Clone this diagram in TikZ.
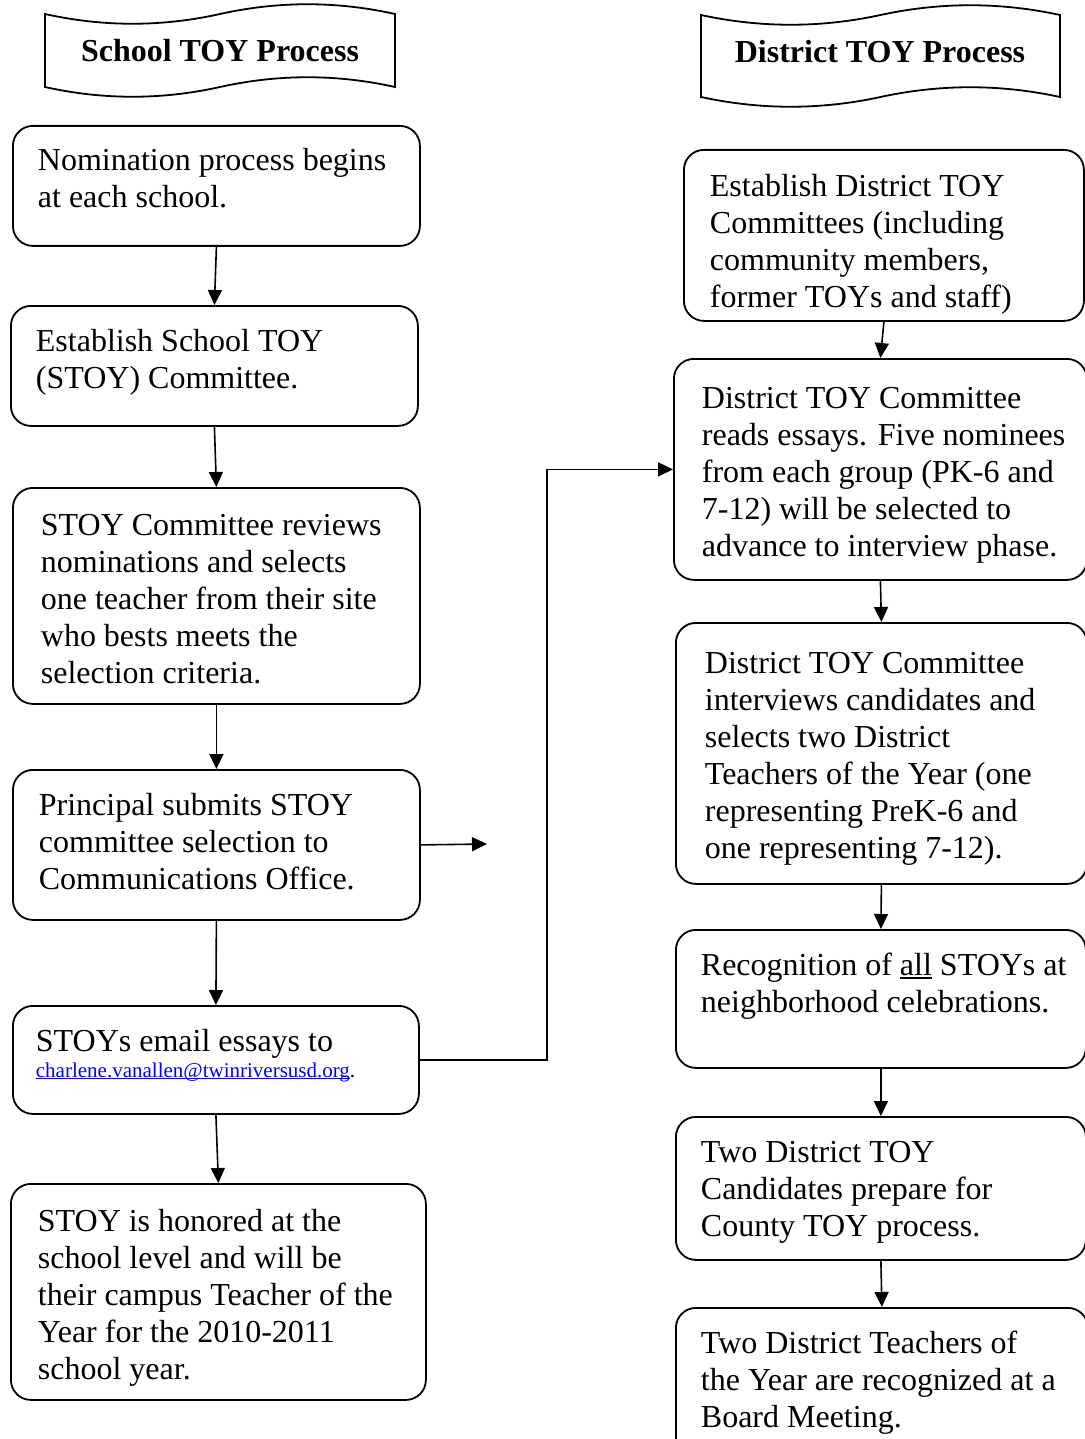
\documentclass[tikz,border=0pt]{standalone}
\usepackage{fontspec}
\setmainfont{Liberation Serif}
\usetikzlibrary{arrows.meta}

% text inside a step box: [top pad]{width}{height}{left inset}{text}
\newcommand{\stepbody}[5][9.6pt]{%
  \parbox[c][#3][t]{#2}{\leftskip=#4\rightskip=0pt plus 1fil\parfillskip=0pt plus 1fil%
    \vspace*{#1}\strut #5}}

% underline at a fixed depth
\newlength{\lowlinewd}
\newcommand{\lowline}[2][1.8pt]{\settowidth{\lowlinewd}{#2}\rlap{\rule[-#1]{\lowlinewd}{0.6pt}}#2}
\newcommand{\maillinktext}{\fontsize{10.5pt}{12pt}\selectfont}

% wavy banner behind a heading: {left}{right}{top}{height}
\newcommand{\tapebanner}[4]{%
  \draw[tape] (#1,#3)
    .. controls ({#1+(#2-#1)/6},#3+13) and ({#1+(#2-#1)/3},#3+13) .. ({(#1+#2)/2},#3)
    .. controls ({#1+2*(#2-#1)/3},#3-13) and ({#1+5*(#2-#1)/6},#3-13) .. (#2,#3)
    -- (#2,#3+#4)
    .. controls ({#1+5*(#2-#1)/6},#3+#4-13) and ({#1+2*(#2-#1)/3},#3+#4-13) .. ({(#1+#2)/2},#3+#4)
    .. controls ({#1+(#2-#1)/3},#3+#4+13) and ({#1+(#2-#1)/6},#3+#4+13) .. (#1,#3+#4)
    -- cycle;}

\tikzset{
  stepbox/.style={draw, line width=0.9pt, rounded corners=10pt, anchor=north west,
    inner sep=0pt, font=\fontsize{16pt}{18.5pt}\selectfont},
  headtext/.style={anchor=base, font=\fontsize{16pt}{19pt}\selectfont\bfseries},
  tape/.style={line width=0.9pt},
  flow/.style={line width=0.8pt, -{Triangle[length=7.5pt,width=7pt]}}
}

\begin{document}
\begin{tikzpicture}[x=0.5pt, y=-0.5pt]
	
	% ------------------------------------------------
	% Page size
	\useasboundingbox (0,0) rectangle (1085,1439);
	
	% ------------------------------------------------
	% Headings
	\node[headtext] (schoolhead) at (220,62) {School TOY Process};
	\tapebanner{45}{395}{14}{73}
	
	\node[headtext] (districthead) at (880,63) {District TOY Process};
	\tapebanner{701}{1060}{15}{82}
	
	% ----------------
	% School column
	\node[stepbox] (nominate) at (12,125)
		{\stepbody{203.5pt}{60pt}{12.5pt}{Nomination process begins\\at each school.}};
	\node[stepbox] (stoycomm) at (10,305)
		{\stepbody{203.5pt}{60pt}{12.5pt}{Establish School TOY\\(STOY) Committee.}};
	\node[stepbox] (review) at (12,487)
		{\stepbody[10.8pt]{203.5pt}{108pt}{14pt}{STOY Committee reviews\\nominations and selects\\one teacher from their site\\who bests meets the\\selection criteria.}};
	\node[stepbox] (submit) at (12,769)
		{\stepbody{203.5pt}{75pt}{13pt}{Principal submits STOY\\committee selection to\\Communications Office.}};
	\node[stepbox] (essays) at (12,1005)
		{\stepbody{203pt}{54pt}{11.5pt}{STOYs email essays to\\[-5.5pt]{\maillinktext\textcolor{blue}{\lowline[1.2pt]{charlene.vanallen@twinriversusd.org}}.}}};
	\node[stepbox] (honored) at (10,1183)
		{\stepbody[10.8pt]{207.5pt}{108pt}{13.5pt}{STOY is honored at the\\school level and will be\\their campus Teacher of the\\Year for the 2010-2011\\school year.}};
	
	% ----------------
	% District column
	\node[stepbox] (distcomm) at (683,149)
		{\stepbody[10.2pt]{200pt}{85.5pt}{13pt}{Establish District TOY\\Committees (including\\community members,\\former TOYs and staff)}};
	\node[stepbox] (reads) at (673,358)
		{\stepbody[11.6pt]{206.5pt}{110.5pt}{14pt}{District TOY Committee\\reads essays. Five nominees\\from each group (PK-6 and\\7-12) will be selected to\\advance to interview phase.}};
	\node[stepbox] (interview) at (675,622)
		{\stepbody[12.1pt]{205.5pt}{130.5pt}{14.5pt}{District TOY Committee\\interviews candidates and\\selects two District\\Teachers of the Year (one\\representing PreK-6 and\\one representing 7-12).}};
	\node[stepbox] (recognize) at (675,929)
		{\stepbody{205pt}{69pt}{12.5pt}{Recognition of \lowline{all} STOYs at\\neighborhood celebrations.}};
	\node[stepbox] (county) at (675,1116)
		{\stepbody{205pt}{71.5pt}{12.5pt}{Two District TOY\\Candidates prepare for\\County TOY process.}};
	\node[stepbox] (board) at (675,1307)
		{\stepbody{206pt}{75pt}{12.5pt}{Two District Teachers of\\the Year are recognized at a\\Board Meeting.}};
	
	\coordinate (loose) at (487,844);
	
	%%%%%%%%%%%%%%%%%%%%%%%%%%%%%%%%%%%%%%%%%
	% Connectors
	\draw[flow] (nominate.south) -- (stoycomm.north);
	\draw[flow] (stoycomm.south) -- (review.north);
	\draw[flow] (review.south) -- (submit.north);
	\draw[flow] (submit.south) -- (essays.north);
	\draw[flow] (essays.south) -- (honored.north);
	\draw[flow] (submit.east) -- (loose);
	
	\draw[flow] (essays.east) -- ++(127,0) |- (reads.west);
	
	\draw[flow] (distcomm.south) -- (reads.north);
	\draw[flow] (reads.south) -- (interview.north);
	\draw[flow] (interview.south) -- (recognize.north);
	\draw[flow] (recognize.south) -- (county.north);
	\draw[flow] (county.south) -- (board.north);
	
\end{tikzpicture}
\end{document}
